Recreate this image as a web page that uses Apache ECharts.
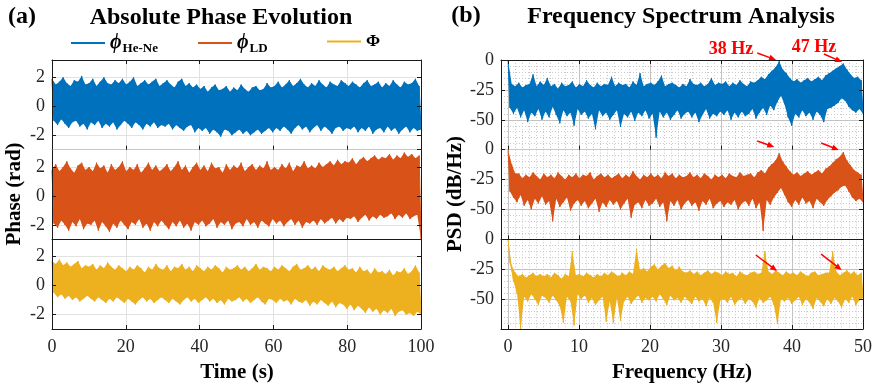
<!DOCTYPE html>
<html><head><meta charset="utf-8">
<script src="https://cdn.jsdelivr.net/npm/echarts@6/dist/echarts.min.js"></script>
<style>html,body{margin:0;padding:0;background:#fff}#c{width:876px;height:386px}</style>
</head><body><div id="c"></div>
<script>
// ---- Data (envelope max/min per bin) ----
const timeTicks = [0, 20, 40, 60, 80, 100];
const freqTicks = [0, 10, 20, 30, 40, 50];
const phaseTicks = [-2, 0, 2];
const psdTicks = [-50, -25, 0];

// Panel (a): phase (rad), one max/min pair per ~1 s bin, 0..100 s
const heNeHi = [1.9,1.5,1.7,2.0,1.6,1.4,1.8,1.7,2.1,1.5, 1.6,1.9,1.4,1.7,2.0,1.6,1.5,1.8,1.6,1.9,
  1.5,1.7,2.0,1.4,1.6,1.8,1.5,1.7,1.9,1.4, 1.6,1.8,1.5,1.3,1.7,1.9,1.4,1.6,1.3,1.5,
  1.2,1.4,1.0,1.3,1.5,1.1,1.2,1.4,1.0,1.3, 1.1,1.5,1.2,1.0,1.3,1.4,1.1,1.2,1.6,1.3,
  1.4,1.7,1.3,1.5,1.8,1.4,1.6,1.9,1.5,1.3, 1.6,1.4,1.8,1.5,1.3,1.7,1.5,1.4,1.8,1.6,
  1.4,1.7,1.5,1.3,1.6,1.8,1.4,1.5,1.7,1.3, 1.6,1.4,1.8,1.5,1.3,1.7,1.5,1.6,1.9,1.4];
const heNeLo = [-1.0,-1.3,-0.9,-1.2,-1.5,-1.1,-1.0,-1.4,-1.2,-1.6, -1.1,-1.3,-1.0,-1.5,-1.2,-1.4,-1.1,-1.6,-1.3,-1.0,
  -1.2,-1.5,-1.1,-1.3,-1.6,-1.2,-1.4,-1.1,-1.5,-1.3, -1.4,-1.2,-1.6,-1.3,-1.5,-1.7,-1.4,-1.3,-1.8,-1.5,
  -1.7,-1.5,-1.9,-1.6,-1.8,-2.1,-1.6,-1.7,-2.0,-1.8, -1.6,-1.9,-1.7,-2.0,-1.8,-1.6,-1.9,-1.7,-1.5,-1.8,
  -1.5,-1.7,-1.4,-1.6,-1.9,-1.5,-1.3,-1.6,-1.4,-1.8, -1.5,-1.3,-1.7,-1.4,-1.6,-1.9,-1.5,-1.4,-1.7,-1.5,
  -1.6,-1.4,-1.8,-1.5,-1.7,-1.4,-1.9,-1.6,-1.5,-1.8, -1.4,-1.7,-1.5,-1.9,-1.6,-1.4,-1.8,-1.5,-1.7,-1.6];
const ldHi = [1.8,2.2,1.7,2.0,2.4,1.9,1.6,2.1,2.3,1.8, 2.0,1.7,2.3,1.9,2.1,1.6,2.2,1.8,2.0,2.4,
  1.7,2.0,1.8,2.2,1.6,1.9,2.3,1.8,2.1,1.7, 1.9,2.2,1.7,2.0,2.4,1.8,2.1,1.6,2.0,2.3,
  1.8,2.1,1.7,2.3,1.9,2.0,1.6,2.2,1.8,2.1, 1.9,2.3,1.7,2.0,2.2,1.8,2.1,1.9,2.4,1.8,
  2.0,1.8,2.2,1.9,2.3,1.7,2.1,2.0,2.4,1.9, 2.1,1.9,2.3,2.0,2.2,2.4,2.1,2.5,2.2,2.4,
  2.3,2.6,2.2,2.5,2.7,2.4,2.6,2.8,2.5,2.7, 2.6,2.9,2.5,2.8,2.6,3.0,2.7,2.9,2.6,2.8];
const ldLo = [-1.9,-2.2,-1.7,-2.0,-2.4,-1.8,-2.1,-1.6,-2.3,-1.9, -2.0,-1.7,-2.4,-1.8,-2.1,-2.5,-1.9,-2.2,-1.7,-2.0,
  -2.3,-1.8,-2.0,-1.6,-2.2,-1.9,-2.4,-1.8,-2.1,-1.7, -2.0,-2.3,-1.8,-2.1,-1.7,-2.2,-1.9,-2.4,-1.8,-2.0,
  -1.7,-2.1,-1.9,-1.6,-2.2,-1.8,-2.0,-1.7,-2.3,-1.9, -1.8,-2.1,-1.6,-2.0,-1.8,-2.2,-1.7,-1.9,-2.1,-1.6,
  -1.9,-1.7,-2.1,-1.8,-1.6,-2.0,-1.7,-2.2,-1.8,-1.9, -1.7,-2.0,-1.6,-1.9,-1.7,-1.5,-1.9,-1.6,-1.8,-1.5,
  -1.6,-1.4,-1.8,-1.5,-1.3,-1.7,-1.4,-1.6,-1.3,-1.5, -1.4,-1.2,-1.6,-1.3,-1.5,-1.2,-1.6,-1.4,-1.3,-3.0];
const phiHi = [1.7,1.5,1.8,1.4,1.6,1.3,1.5,1.7,1.2,1.4, 1.3,1.5,1.1,1.4,1.2,1.6,1.3,1.1,1.4,1.2,
  1.0,1.3,1.1,1.4,1.2,0.9,1.3,1.1,1.5,1.2, 1.1,1.4,1.0,1.3,1.2,1.5,1.1,1.3,1.0,1.4,
  1.2,1.0,1.3,1.1,1.4,1.2,0.9,1.3,1.1,1.2, 1.4,1.1,1.3,1.0,1.2,1.5,1.1,1.3,1.2,1.0,
  1.3,1.1,1.4,1.2,1.0,1.3,1.5,1.1,1.2,1.4, 1.1,1.3,1.0,1.4,1.2,1.1,1.3,1.0,1.2,1.4,
  1.1,1.2,0.9,1.3,1.0,1.1,0.8,1.2,0.9,1.0, 0.8,1.1,0.7,1.0,0.9,1.2,0.8,1.0,1.4,0.9];
const phiLo = [-0.5,-0.8,-0.6,-0.9,-0.7,-1.0,-0.8,-1.1,-0.9,-0.7, -0.9,-1.1,-0.8,-1.0,-1.2,-0.9,-1.1,-0.8,-1.0,-1.2,
  -0.9,-1.1,-1.3,-1.0,-0.8,-1.1,-0.9,-1.2,-1.0,-0.8, -1.0,-1.2,-0.9,-1.1,-1.3,-1.0,-0.8,-1.1,-0.9,-1.2,
  -1.0,-0.8,-1.1,-0.9,-1.2,-1.0,-1.3,-0.9,-1.1,-1.0, -0.8,-1.1,-0.9,-1.2,-1.0,-0.8,-1.1,-1.3,-0.9,-1.0,
  -1.2,-0.9,-1.1,-1.0,-1.3,-0.9,-1.1,-1.2,-1.0,-1.4, -1.1,-1.3,-1.0,-1.2,-1.4,-1.1,-1.5,-1.2,-1.3,-1.6,
  -1.3,-1.7,-1.4,-1.6,-1.9,-1.5,-1.8,-1.6,-2.0,-1.7, -1.9,-1.6,-2.1,-1.8,-1.7,-2.0,-1.9,-2.1,-1.8,-2.0];

// Panel (b): PSD (dB/Hz), one max/min pair per 0.5 Hz bin, 0..50 Hz
const psdHeNeHi = [0,-20,-22,-19,-23,-21,-20,-12,-22,-18, -21,-15,-22,-20,-24,-19,-22,-21,-18,-23,
  -20,-22,-17,-21,-23,-19,-22,-20,-21,-14, -22,-19,-21,-20,-23,-18,-21,-11,-22,-20,
  -19,-21,-18,-13,-22,-20,-19,-21,-23,-20, -22,-16,-20,-21,-19,-22,-20,-15,-21,-19,
  -20,-18,-22,-19,-21,-17,-20,-22,-18,-19, -17,-14,-16,-12,-9,-6,-1,-8,-11,-15,
  -18,-16,-19,-17,-15,-18,-16,-14,-17,-13, -11,-9,-7,-5,-3,-8,-12,-15,-14,-17];
const psdHeNeLo = [-40,-45,-40,-48,-42,-52,-44,-47,-41,-50, -43,-48,-39,-46,-53,-42,-47,-44,-55,-41,
  -46,-43,-49,-45,-58,-42,-47,-44,-50,-46, -42,-56,-45,-48,-43,-51,-44,-47,-42,-49,
  -45,-65,-43,-48,-44,-50,-46,-42,-49,-45, -43,-48,-44,-52,-46,-41,-49,-45,-47,-43,
  -46,-42,-50,-44,-48,-43,-47,-45,-41,-49, -44,-40,-46,-38,-42,-35,-30,-37,-48,-55,
  -45,-48,-42,-47,-44,-50,-43,-46,-52,-41, -40,-38,-36,-32,-34,-39,-42,-44,-41,-45];
const psdLdHi = [0,-12,-20,-20,-24,-21,-23,-19,-22,-25, -20,-23,-21,-24,-19,-22,-25,-21,-23,-20,
  -24,-21,-22,-19,-25,-22,-20,-23,-21,-24, -22,-20,-24,-21,-23,-18,-22,-25,-21,-23,
  -20,-23,-21,-24,-19,-22,-20,-24,-21,-23, -22,-19,-23,-21,-24,-20,-22,-25,-21,-23,
  -21,-24,-20,-22,-23,-19,-22,-21,-20,-23, -19,-17,-20,-15,-12,-9,-3,-10,-14,-18,
  -21,-19,-22,-20,-18,-21,-19,-17,-20,-16, -14,-11,-8,-6,-2,-9,-13,-17,-19,-21];
const psdLdLo = [-35,-40,-44,-38,-47,-42,-50,-41,-45,-39, -46,-43,-60,-41,-48,-44,-40,-51,-45,-42,
  -47,-43,-49,-45,-41,-52,-44,-48,-42,-46, -43,-50,-45,-41,-57,-46,-44,-49,-42,-47,
  -45,-41,-48,-44,-60,-43,-47,-42,-50,-45, -42,-47,-44,-51,-43,-46,-41,-49,-45,-43,
  -48,-44,-46,-42,-50,-45,-43,-47,-41,-49, -44,-68,-42,-46,-40,-36,-32,-38,-44,-48,
  -42,-46,-40,-45,-43,-49,-41,-44,-47,-42, -39,-36,-34,-31,-30,-35,-40,-43,-41,-44];
const psdPhiHi = [0,-22,-28,-31,-29,-32,-30,-28,-31,-29, -31,-29,-32,-28,-30,-33,-29,-31,-10,-30,
  -29,-31,-28,-30,-32,-29,-31,-28,-30,-27, -29,-31,-28,-30,-27,-29,-8,-26,-24,-27,
  -23,-21,-25,-22,-20,-24,-22,-26,-23,-27, -28,-26,-29,-27,-30,-28,-26,-29,-27,-28,
  -30,-27,-29,-28,-31,-27,-29,-30,-28,-27, -29,-28,-10,-27,-29,-26,-28,-30,-27,-29,
  -28,-30,-27,-29,-31,-28,-27,-30,-29,-28, -28,-10,-27,-30,-28,-26,-29,-27,-30,-28];
const psdPhiLo = [-20,-35,-45,-75,-48,-52,-46,-50,-55,-47, -49,-53,-47,-51,-56,-70,-48,-52,-72,-46,
  -50,-47,-53,-49,-55,-51,-48,-69,-52,-70, -49,-68,-52,-48,-54,-50,-47,-53,-49,-51,
  -48,-52,-46,-50,-55,-47,-51,-49,-53,-48, -51,-54,-48,-52,-50,-56,-49,-53,-70,-51,
  -50,-53,-48,-55,-51,-49,-54,-50,-52,-57, -49,-53,-51,-48,-55,-71,-50,-52,-49,-54,
  -51,-48,-55,-50,-53,-58,-49,-52,-56,-50, -54,-49,-52,-57,-50,-53,-48,-55,-51,-49];

// Peak annotations
const peakLabels = ['38 Hz', '47 Hz'];
// arrow [start, tip] in [Hz, dB] for each spectrum row
const arrows = [
  [[[35.1, 5.9], [37.75, 0]], [[44.5, 5.0], [47.05, -1.7]]],
  [[[35.1, 7.3], [37.5, 2.3]], [[44.1, 5.6], [46.6, -0.3]]],
  [[[34.9, -13.1], [37.9, -26.5]], [[44.1, -12.3], [47.0, -25.7]]]
];

// ---- Layout / style ----
const FONT = "'Liberation Serif','Times New Roman',serif";
const C = ['#0072BD', '#D95319', '#EDB120'];
const FRAME = '#1a1a1a';
const PL = {left: 52, width: 369}, PR = {left: 501, width: 362};
const TOP = 60, H = 269 / 3;

function binX(n, xmax) { // positions of the 2n samples (max/min alternating)
  const out = [];
  for (let j = 0; j < 2 * n; j++) out.push(j * xmax / (2 * n - 1));
  return out;
}
function zig(hi, lo, xmax) {
  const xs = binX(hi.length, xmax), out = [];
  for (let i = 0; i < hi.length; i++) {
    out.push([xs[2 * i], hi[i]]);
    out.push([xs[2 * i + 1], lo[i]]);
  }
  return out;
}

const grid = [], xAxis = [], yAxis = [], series = [];
const lbl = {fontFamily: FONT, fontSize: 18, color: '#262626'};

function buildPanel(P, isLeft) {
  const mainX = [], mainY = [];
  const gridCol = isLeft ? '#e2e2e2' : '#c2c2c2';
  for (let r = 0; r < 3; r++) {
    const gi = grid.length;
    grid.push({left: P.left, width: P.width, top: TOP + r * H, height: H, containLabel: false});
    const xmin = isLeft ? 0 : -1, xmax = isLeft ? 100 : 50;
    const ymin = isLeft ? -3 : -75, ymax = isLeft ? 3.2 : 0;
    const xs = {interval: isLeft ? 20 : undefined, splitNumber: isLeft ? undefined : 5};
    const ys = {interval: isLeft ? undefined : 25, splitNumber: isLeft ? 3 : undefined};
    xAxis.push(Object.assign({
      type: 'value', gridIndex: gi, min: xmin, max: xmax, z: 0,
      axisLine: {show: false}, axisTick: {show: false}, axisLabel: {show: false},
      splitLine: {show: true, showMinLine: false, showMaxLine: false, lineStyle: {color: gridCol, width: 1}},
      minorTick: {show: false, splitNumber: 10},
      minorSplitLine: {show: !isLeft, lineStyle: {color: '#c9c9c9', type: [1, 2], width: 1}}
    }, xs));
    yAxis.push(Object.assign({
      type: 'value', gridIndex: gi, min: ymin, max: ymax, z: 0,
      axisLine: {show: false}, axisTick: {show: false}, axisLabel: {show: false},
      splitLine: {show: true, showMinLine: false, showMaxLine: false, lineStyle: {color: gridCol, width: 1}},
      minorTick: {show: false, splitNumber: 5},
      minorSplitLine: {show: !isLeft, lineStyle: {color: '#c9c9c9', type: [1, 2], width: 1}}
    }, ys));
    mainX.push(xAxis.length);
    xAxis.push(Object.assign({
      type: 'value', gridIndex: gi, min: xmin, max: xmax, position: 'bottom', z: 5,
      axisLine: {show: true, onZero: false, lineStyle: {color: r === 0 ? '#c8c8c8' : FRAME, width: 1}},
      axisTick: {show: true, inside: true, length: 4, lineStyle: {color: FRAME}},
      axisLabel: Object.assign({show: r === 2, margin: 9, showMinLabel: isLeft}, lbl),
      splitLine: {show: false}
    }, xs));
    if (r === 0) {
      xAxis.push(Object.assign({
        type: 'value', gridIndex: gi, min: xmin, max: xmax, position: 'top', z: 5,
        axisLine: {show: true, onZero: false, lineStyle: {color: FRAME, width: 1}},
        axisTick: {show: true, inside: true, length: 4, lineStyle: {color: FRAME}},
        axisLabel: {show: false}, splitLine: {show: false}
      }, xs));
    }
    mainY.push(yAxis.length);
    yAxis.push(Object.assign({
      type: 'value', gridIndex: gi, min: ymin, max: ymax, position: 'left', z: 5,
      axisLine: {show: true, onZero: false, lineStyle: {color: FRAME, width: 1}},
      axisTick: {show: true, inside: true, length: 4, lineStyle: {color: FRAME}},
      axisLabel: Object.assign({margin: 7, showMinLabel: false, showMaxLabel: !isLeft}, lbl),
      splitLine: {show: false}
    }, ys));
    yAxis.push(Object.assign({
      type: 'value', gridIndex: gi, min: ymin, max: ymax, position: 'right', z: 5,
      axisLine: {show: true, onZero: false, lineStyle: {color: FRAME, width: 1}},
      axisTick: {show: true, inside: true, length: 4, lineStyle: {color: FRAME}},
      axisLabel: {show: false}, splitLine: {show: false}
    }, ys));
  }
  return {mainX, mainY};
}

const A = buildPanel(PL, true);
const B = buildPanel(PR, false);

function addBand(hi, lo, xmax, color, name, xi, yi) {
  const xs = binX(hi.length, xmax);
  // filled envelope between the max and min samples, drawn through the axes' scales
  series.push({
    type: 'custom', xAxisIndex: xi, yAxisIndex: yi, silent: true, animation: false, z: 2, clip: true,
    data: [[xs[0], hi[0]]], encode: {x: 0, y: 1},
    renderItem: function (params, api) {
      if (params.dataIndex !== 0) return;
      const pts = [];
      for (let i = 0; i < hi.length; i++) pts.push(api.coord([xs[2 * i], hi[i]]));
      for (let i = lo.length - 1; i >= 0; i--) pts.push(api.coord([xs[2 * i + 1], lo[i]]));
      return {type: 'polygon', shape: {points: pts}, style: {fill: color}};
    }
  });
  series.push({type: 'line', name: name, xAxisIndex: xi, yAxisIndex: yi, data: zig(hi, lo, xmax),
    symbol: 'none', showSymbol: false, lineStyle: {color: color, width: 1}, itemStyle: {color: color},
    animation: false, silent: true, z: 3});
}

const leftSets = [[heNeHi, heNeLo, 'heNe'], [ldHi, ldLo, 'ld'], [phiHi, phiLo, 'phi']];
leftSets.forEach((s, r) => addBand(s[0], s[1], 100, C[r], s[2], A.mainX[r], A.mainY[r]));
const rightSets = [[psdHeNeHi, psdHeNeLo], [psdLdHi, psdLdLo], [psdPhiHi, psdPhiLo]];
rightSets.forEach((s, r) => addBand(s[0], s[1], 50, C[r], 'psd' + r, B.mainX[r], B.mainY[r]));

const rich = {
  p: {fontFamily: FONT, fontStyle: 'italic', fontWeight: 'bold', fontSize: 20, color: '#000'},
  s: {fontFamily: FONT, fontWeight: 'bold', fontSize: 13, color: '#000', verticalAlign: 'bottom', padding: [12, 0, 0, 1]},
  b: {fontFamily: FONT, fontWeight: 'bold', fontSize: 17, color: '#000'}
};
const legendText = {heNe: '{p|ϕ}{s|He-Ne}', ld: '{p|ϕ}{s|LD}', phi: '{b|Φ}'};
const legendPos = {heNe: 66, ld: 193, phi: 322};
const legend = Object.keys(legendText).map(k => ({
  data: [k], left: legendPos[k], top: 28, icon: 'rect', itemWidth: 34, itemHeight: 2,
  selectedMode: false, formatter: n => legendText[n],
  textStyle: {fontFamily: FONT, color: '#000', rich: rich}
}));

function txt(x, y, text, size, extra) {
  return Object.assign({type: 'text', x: x, y: y, silent: true, z: 50,
    style: {text: text, fontFamily: FONT, fontWeight: 'bold', fontSize: size, fill: '#000',
      textAlign: 'center', textVerticalAlign: 'middle', align: 'center', verticalAlign: 'middle'}}, extra || {});
}
const graphic = [
  txt(22, 17, '(a)', 24),
  txt(221, 18, 'Absolute Phase Evolution', 24),
  txt(466, 16, '(b)', 24),
  txt(681, 17, 'Frequency Spectrum Analysis', 24),
  txt(15, 194, 'Phase (rad)', 21, {rotation: Math.PI / 2}),
  txt(456, 194, 'PSD (dB/Hz)', 21, {rotation: Math.PI / 2}),
  txt(237, 373, 'Time (s)', 21),
  txt(682, 373, 'Frequency (Hz)', 21),
];
const lab1 = txt(731, 49, peakLabels[0], 18); lab1.style.fill = '#ff0000';
const lab2 = txt(814, 47, peakLabels[1], 18); lab2.style.fill = '#ff0000';
graphic.push(lab1, lab2);

const chart = echarts.init(document.getElementById('c'), null, {renderer: 'canvas'});
chart.setOption({
  backgroundColor: '#fff', animation: false,
  grid: grid, xAxis: xAxis, yAxis: yAxis, series: series, legend: legend, graphic: graphic,
  tooltip: {show: false}
});

// arrows placed through the axes' own scales
arrows.forEach((row, r) => {
  row.forEach(a => {
    const finder = {xAxisIndex: B.mainX[r], yAxisIndex: B.mainY[r]};
    const p0 = chart.convertToPixel(finder, a[0]);
    const p1 = chart.convertToPixel(finder, a[1]);
    const dx = p1[0] - p0[0], dy = p1[1] - p0[1], L = Math.hypot(dx, dy);
    const ux = dx / L, uy = dy / L, hl = 7, hw = 3;
    const bx = p1[0] - ux * hl, by = p1[1] - uy * hl;
    graphic.push({type: 'line', silent: true, z: 60,
      shape: {x1: p0[0], y1: p0[1], x2: bx + ux, y2: by + uy},
      style: {stroke: '#ff0000', lineWidth: 1.5}});
    graphic.push({type: 'polygon', silent: true, z: 60,
      shape: {points: [[p1[0], p1[1]], [bx - uy * hw, by + ux * hw], [bx + uy * hw, by - ux * hw]]},
      style: {fill: '#ff0000'}});
  });
});
chart.setOption({graphic: graphic});
</script></body></html>
